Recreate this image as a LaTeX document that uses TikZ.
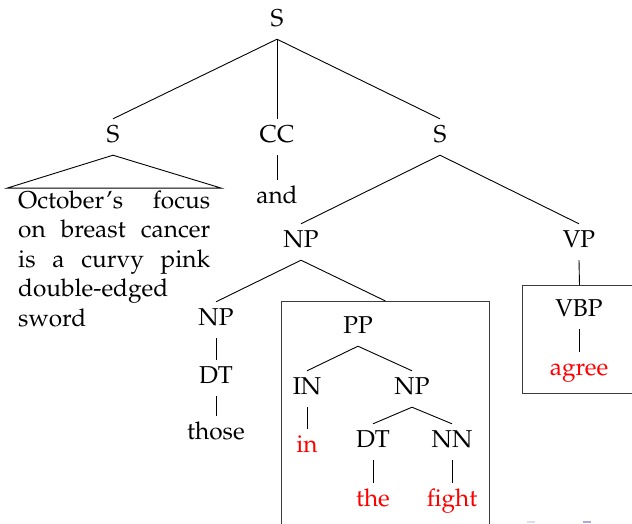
\documentclass[tikz,border=0pt]{standalone}
\usepackage[T1]{fontenc}
\usepackage{mathpazo}
\definecolor{wordred}{RGB}{255,0,0}
\definecolor{boxgray}{RGB}{60,60,60}
\tikzset{
  lab/.style={anchor=base, font=\fontsize{24.4}{29.5}\selectfont,
    text height=20pt, text depth=10pt, inner xsep=2pt, inner ysep=3pt},
  word/.style={lab, text=wordred},
  branch/.style={line width=0.9pt, black},
  framebox/.style={draw=boxgray, line width=1pt, inner sep=0pt},
}
\begin{document}
\begin{tikzpicture}[x=1pt, y=-1pt]
  \useasboundingbox (0,0) rectangle (632,523);
  \clip (0,0) rectangle (632,523);

  % top level
  \node[lab] (s0) at (277,26) {S};
  \node[lab] (s1) at (113,142) {S};
  \node[lab] (cc) at (277,142) {CC};
  \node[lab] (s2) at (440,142) {S};
  \draw[branch] (s0.south) -- (s1.north);
  \draw[branch] (s0.south) -- (cc.north);
  \draw[branch] (s0.south) -- (s2.north);

  % collapsed first clause
  \node[anchor=base west, inner xsep=11pt, inner ysep=2pt,
        font=\fontsize{24.4}{29.5}\selectfont] (para) at (7,208)
    {\parbox[t]{192pt}{October's\hfill focus\\
      on\hfill breast\hfill cancer\\
      is\hfill a\hfill curvy\hfill pink\\
      double-edged\\
      sword}};
  \draw[branch] (para.north west) -- (s1.south) -- (para.north east) -- cycle;

  % conjunction
  \node[lab] (and) at (277,203) {and};
  \draw[branch] (cc.south) -- (and.north);

  % second clause
  \node[lab] (np) at (301,247) {NP};
  \node[lab] (vp) at (579,247) {VP};
  \draw[branch] (s2.south) -- (np.north);
  \draw[branch] (s2.south) -- (vp.north);

  \node[lab] (np2) at (216,325) {NP};
  \node[lab] (dt1) at (216,383) {DT};
  \node[lab] (those) at (216,439) {those};
  \draw[branch] (np.south) -- (np2.north);
  \draw[branch] (np2.south) -- (dt1.north);
  \draw[branch] (dt1.south) -- (those.north);

  % boxed prepositional phrase
  \node[framebox, anchor=north west, minimum width=208pt, minimum height=260pt]
    (ppbox) at (281,301) {};
  \draw[branch] (np.south) -- (ppbox.north);
  \node[lab] (pp) at (358,333) {PP};
  \node[lab] (in) at (307,394) {IN};
  \node[lab] (np3) at (412,394) {NP};
  \node[word] (inw) at (307,452) {in};
  \node[lab] (dt2) at (373,447) {DT};
  \node[lab] (nn) at (452,447) {NN};
  \node[word] (the) at (373,506) {the};
  \node[word] (fight) at (452,506) {fight};
  \draw[branch] (pp.south) -- (in.north);
  \draw[branch] (pp.south) -- (np3.north);
  \draw[branch] (in.south) -- (inw.north);
  \draw[branch] (np3.south) -- (dt2.north);
  \draw[branch] (np3.south) -- (nn.north);
  \draw[branch] (dt2.south) -- (the.north);
  \draw[branch] (nn.south) -- (fight.north);

  % boxed verb
  \node[framebox, anchor=north west, minimum width=114pt, minimum height=108pt]
    (vbox) at (522,285) {};
  \draw[branch] (vp.south) -- (vbox.north);
  \node[lab] (vbp) at (579,316) {VBP};
  \node[word] (agree) at (579,375) {agree};
  \draw[branch] (vbp.south) -- (agree.north);

  % bits of link text along the lower edge
  \fill[color={rgb,255:red,220;green,220;blue,245}] (527,521) rectangle (535,523);
  \fill[color={rgb,255:red,170;green,170;blue,225}] (583,521) rectangle (591,523);
\end{tikzpicture}
\end{document}
